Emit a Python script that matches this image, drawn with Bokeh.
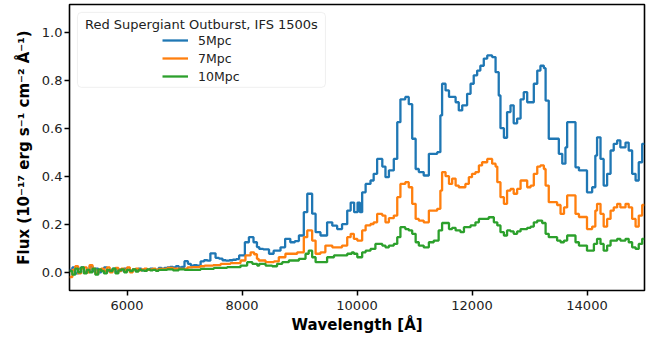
from bokeh.plotting import figure
from bokeh.models import (Range1d, FixedTicker, PrintfTickFormatter, Legend, LegendItem,
                          BoxAnnotation, Label)
from bokeh.embed import file_html
from bokeh.resources import INLINE

# ---- data (step start wavelengths in Angstrom, flux in 1e-17 erg/s/cm2/A) ----
blue_wave = [5000, 5050, 5100, 5150, 5200, 5250, 5300, 5350, 5400, 5450, 5500, 5550, 5600, 5650,
             5700, 5750, 5800, 5850, 5900, 5950, 6000, 6050, 6100, 6150, 6200, 6250, 6300, 6350,
             6400, 6450, 6500, 6550, 6600, 6650, 6700, 6750, 6800, 6850, 6900, 6950, 7000, 7060,
             7110, 7160, 7220, 7280, 7340, 7400, 7450, 7540, 7600, 7660, 7720, 7780, 7840, 7900,
             7950, 8050, 8120, 8200, 8260, 8300, 8370, 8470, 8550, 8670, 8750, 8840, 8920, 8990,
             9075, 9135, 9220, 9280, 9365, 9480, 9570, 9655, 9740, 9830, 9890, 9950, 10010, 10050,
             10090, 10150, 10235, 10290, 10350, 10440, 10495, 10555, 10640, 10700, 10755, 10840,
             10900, 10960, 11020, 11075, 11160, 11250, 11395, 11450, 11480, 11540, 11600, 11715,
             11770, 11830, 11915, 11975, 12030, 12090, 12145, 12205, 12265, 12350, 12410, 12465,
             12495, 12555, 12610, 12670, 12725, 12785, 12845, 12900, 12960, 13075, 13135, 13190,
             13250, 13280, 13335, 13510, 13570, 13625, 13655, 13800, 13860, 14000, 14090, 14145,
             14175, 14235, 14290, 14350, 14410, 14465, 14525, 14580, 14670, 14725, 14785, 14845,
             14900, 14960]
blue_flux = [0.01, 0.02, -0.005, 0.015, 0.02, 0.0, 0.01, 0.025, 0.005, 0.015, 0.0, 0.01, 0.02, 0.005,
             0.01, 0.015, 0.0, 0.012, 0.008, 0.015, 0.01, 0.005, 0.012, 0.01, 0.015, 0.008, 0.012, 0.01,
             0.015, 0.012, 0.01, 0.018, 0.015, 0.018, 0.02, 0.022, 0.02, 0.025, 0.02, 0.022, 0.046, 0.035,
             0.028, 0.03, 0.028, 0.045, 0.05, 0.048, 0.079, 0.06, 0.057, 0.05, 0.048, 0.05, 0.052, 0.055,
             0.07, 0.125, 0.146, 0.125, 0.105, 0.097, 0.095, 0.077, 0.09, 0.104, 0.139, 0.125, 0.13, 0.153,
             0.25, 0.327, 0.244, 0.167, 0.153, 0.208, 0.194, 0.18, 0.2, 0.257, 0.29, 0.25, 0.29, 0.25,
             0.333, 0.368, 0.382, 0.41, 0.472, 0.44, 0.396, 0.424, 0.472, 0.625, 0.72, 0.73,
             0.70, 0.556, 0.43, 0.417, 0.403, 0.493, 0.5, 0.653, 0.785, 0.757, 0.73, 0.708,
             0.674, 0.695, 0.743, 0.785, 0.82, 0.84, 0.86, 0.89, 0.903, 0.896, 0.833, 0.736,
             0.6, 0.56, 0.667, 0.695, 0.62, 0.64, 0.72, 0.75, 0.708, 0.785, 0.84, 0.86,
             0.85, 0.715, 0.556, 0.493, 0.452, 0.52, 0.625, 0.437, 0.424, 0.333, 0.354, 0.486,
             0.562, 0.472, 0.361, 0.41, 0.507, 0.535, 0.549, 0.52, 0.54, 0.507, 0.41, 0.382,
             0.458, 0.535]

orange_wave = [5000, 5050, 5100, 5150, 5200, 5250, 5300, 5350, 5400, 5450, 5500, 5550, 5600, 5650,
               5700, 5750, 5800, 5850, 5900, 5950, 6000, 6050, 6100, 6150, 6200, 6250, 6300, 6350,
               6400, 6450, 6500, 6550, 6600, 6700, 6800, 6930, 7050, 7140, 7270, 7350, 7500, 7630,
               7800, 7975, 8060, 8150, 8210, 8260, 8290, 8410, 8555, 8640, 8755, 8960, 9075, 9135,
               9220, 9280, 9365, 9450, 9570, 9655, 9740, 9830, 9890, 9945, 10005, 10090, 10150, 10235,
               10290, 10350, 10440, 10495, 10555, 10640, 10700, 10755, 10840, 10900, 10960, 11020,
               11075, 11160, 11250, 11395, 11450, 11480, 11540, 11600, 11655, 11715, 11770, 11885,
               11945, 12000, 12060, 12120, 12175, 12265, 12350, 12410, 12440, 12495, 12555, 12610,
               12670, 12725, 12785, 12845, 12960, 13020, 13075, 13135, 13190, 13250, 13280, 13335,
               13480, 13540, 13600, 13655, 13800, 13860, 14000, 14090, 14145, 14175, 14235, 14290,
               14350, 14410, 14465, 14525, 14580, 14670, 14725, 14785, 14845, 14900, 14960]
orange_flux = [-0.02, 0.01, 0.025, -0.005, 0.015, 0.02, 0.0, 0.03, 0.015, -0.005, 0.01, 0.015, 0.005, 0.02,
               0.0, 0.012, 0.018, 0.005, 0.015, 0.01, 0.02, 0.0, 0.012, 0.015, 0.008, 0.012, 0.015, 0.01,
               0.012, 0.015, 0.01, 0.014, 0.014, 0.018, 0.015, 0.014, 0.02, 0.021, 0.025, 0.028, 0.03, 0.035,
               0.038, 0.049, 0.07, 0.083, 0.075, 0.056, 0.049, 0.042, 0.045, 0.0625, 0.077, 0.083, 0.146, 0.174,
               0.132, 0.077, 0.083, 0.111, 0.104, 0.104, 0.111, 0.146, 0.16, 0.139, 0.132, 0.174, 0.195, 0.201,
               0.208, 0.243, 0.236, 0.208, 0.225, 0.236, 0.3125, 0.368, 0.375, 0.354, 0.285, 0.222,
               0.215, 0.208, 0.257, 0.264, 0.34, 0.417, 0.40, 0.368, 0.39, 0.361, 0.354, 0.368,
               0.396, 0.41, 0.417, 0.445, 0.458, 0.472, 0.452, 0.44, 0.375, 0.3125, 0.285, 0.34,
               0.347, 0.327, 0.347, 0.382, 0.354, 0.361, 0.41, 0.44, 0.445, 0.43, 0.361, 0.292,
               0.28, 0.243, 0.27, 0.32, 0.243, 0.23, 0.18, 0.19, 0.257, 0.285, 0.243, 0.19,
               0.222, 0.257, 0.27, 0.285, 0.27, 0.285, 0.27, 0.222, 0.19, 0.236, 0.28]

green_wave = [5000, 5050, 5100, 5150, 5200, 5250, 5300, 5350, 5400, 5450, 5500, 5550, 5600, 5650,
              5700, 5750, 5800, 5850, 5900, 5950, 6000, 6050, 6100, 6150, 6200, 6250, 6300, 6350,
              6400, 6450, 6500, 6550, 6600, 6700, 6800, 6900, 7000, 7280, 7510, 7740, 7975, 8090,
              8180, 8265, 8300, 8410, 8525, 8610, 8700, 8815, 8990, 9105, 9160, 9220, 9280, 9480,
              9600, 9830, 9910, 9945, 10005, 10090, 10150, 10235, 10320, 10440, 10495, 10555, 10640,
              10700, 10755, 10840, 10900, 10960, 11020, 11075, 11160, 11250, 11335, 11420, 11480,
              11540, 11600, 11655, 11715, 11800, 11860, 11975, 12060, 12120, 12290, 12380, 12440,
              12495, 12555, 12610, 12670, 12725, 12785, 12845, 12960, 13020, 13075, 13135, 13220,
              13280, 13335, 13480, 13540, 13600, 13655, 13800, 13860, 14000, 14120, 14175, 14235,
              14290, 14350, 14410, 14525, 14580, 14670, 14725, 14785, 14845, 14900, 14960]
green_flux = [0.005, -0.01, 0.015, 0.0, 0.02, -0.005, 0.01, 0.0, 0.015, -0.01, 0.012, 0.005, -0.005, 0.01,
              0.005, 0.015, -0.005, 0.008, 0.012, 0.0, 0.01, 0.005, 0.012, 0.003, 0.01, 0.008, 0.006, 0.012,
              0.008, 0.01, 0.006, 0.01, 0.01, 0.012, 0.008, 0.012, 0.01, 0.014, 0.018, 0.021, 0.028, 0.042,
              0.035, 0.028, 0.035, 0.028, 0.025, 0.035, 0.042, 0.049, 0.056, 0.077, 0.09, 0.0625, 0.042, 0.0625,
              0.07, 0.077, 0.083, 0.077, 0.0625, 0.083, 0.09, 0.097, 0.118, 0.111, 0.104, 0.111, 0.118,
              0.146, 0.1875, 0.18, 0.174, 0.16, 0.125, 0.111, 0.104, 0.125, 0.132, 0.174, 0.205,
              0.205, 0.18, 0.185, 0.174, 0.167, 0.1875, 0.195, 0.208, 0.222, 0.229, 0.208, 0.195,
              0.167, 0.153, 0.174, 0.17, 0.16, 0.17, 0.18, 0.185, 0.19, 0.208, 0.215, 0.205,
              0.16, 0.146, 0.132, 0.125, 0.132, 0.153, 0.125, 0.111, 0.09, 0.118, 0.139, 0.118,
              0.09, 0.111, 0.132, 0.139, 0.132, 0.139, 0.125, 0.104, 0.097, 0.118, 0.139]

series_labels = ["5Mpc", "7Mpc", "10Mpc"]
series_colors = ["#1f77b4", "#ff7f0e", "#2ca02c"]
legend_title = "Red Supergiant Outburst, IFS 1500s"
x_ticks = [6000, 8000, 10000, 12000, 14000]
y_ticks = [0.0, 0.2, 0.4, 0.6, 0.8, 1.0]
wave_end = 15000

FONT = "DejaVu Sans"

p = figure(width=647, height=339, output_backend="svg", toolbar_location=None,
           x_range=Range1d(5000, 15000), y_range=Range1d(-0.076, 1.115),
           min_border_left=69, min_border_right=3, min_border_top=4, min_border_bottom=49)
p.xgrid.visible = False
p.ygrid.visible = False
p.outline_line_color = "black"
p.outline_line_width = 1.6
p.outline_line_alpha = 1.0
p.background_fill_color = "white"
p.border_fill_color = "white"

renderers = []
for wave, flux, col in [(blue_wave, blue_flux, series_colors[0]),
                        (orange_wave, orange_flux, series_colors[1]),
                        (green_wave, green_flux, series_colors[2])]:
    xs = list(wave) + [wave_end]
    ys = list(flux) + [flux[-1]]
    r = p.step(xs, ys, mode="after", line_color=col, line_width=2.3)
    renderers.append(r)

for ax in (p.xaxis[0], p.yaxis[0]):
    ax.axis_line_color = None
    ax.major_tick_line_color = "black"
    ax.major_tick_line_width = 1.5
    ax.major_tick_out = 5
    ax.major_tick_in = 0
    ax.minor_tick_line_color = None
    ax.major_label_text_font = FONT
    ax.major_label_text_font_size = "13px"
    ax.major_label_text_color = "#222222"
    ax.axis_label_text_font = FONT
    ax.axis_label_text_font_style = "bold"
    ax.axis_label_text_font_size = "15px"
    ax.axis_label_text_color = "black"

p.xaxis.ticker = FixedTicker(ticks=x_ticks)
p.yaxis.ticker = FixedTicker(ticks=y_ticks)
p.yaxis.formatter = PrintfTickFormatter(format="%.1f")
p.xaxis.major_label_standoff = 5
p.yaxis.major_label_standoff = 2
p.xaxis.axis_label = "Wavelength [Å]"
p.yaxis.axis_label = "Flux (10⁻¹⁷ erg s⁻¹ cm⁻² Å⁻¹)"
p.xaxis.axis_label_standoff = 3
p.yaxis.axis_label_standoff = 6

# legend frame and title
box = BoxAnnotation(left=5139, right=9452, top=1.082, bottom=0.77,
                    fill_color="white", fill_alpha=0.85,
                    line_color="#cccccc", line_width=1, border_radius=4)
p.add_layout(box)
p.add_layout(Label(x=7295, y=1.032, text=legend_title, text_align="center",
                   text_baseline="middle", text_font=FONT, text_font_size="13px",
                   text_color="#222222"))

legend = Legend(items=[LegendItem(label=lab, renderers=[r]) for lab, r in zip(series_labels, renderers)],
                location=(93, 205), orientation="vertical",
                padding=0, spacing=0, margin=0, label_height=18, glyph_height=18, glyph_width=26,
                label_standoff=10, border_line_color=None, background_fill_alpha=0,
                label_text_font=FONT, label_text_font_size="12.5px", label_text_color="#222222")
p.add_layout(legend)

open("out.html", "w").write(file_html(p, INLINE))
